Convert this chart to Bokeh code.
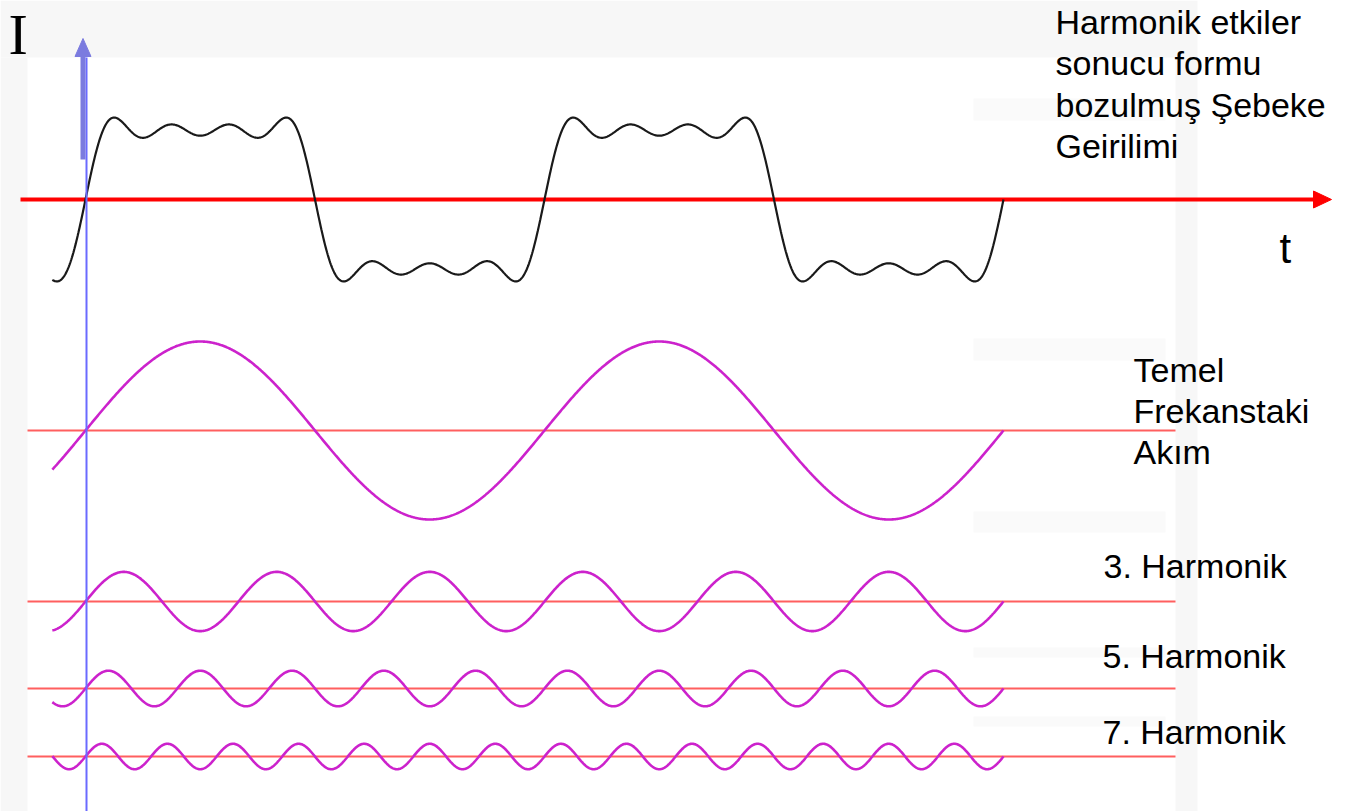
import numpy as np
from bokeh.plotting import figure
from bokeh.models import Range1d
from bokeh.core.properties import value
from bokeh.embed import file_html
from bokeh.resources import INLINE

# ---------------- data ----------------
harmonic_orders = [1, 3, 5, 7]
harmonic_amplitudes = [1.0, 0.333, 0.2, 0.143]   # relative to the fundamental
distorted_scale = 0.99                           # distorted wave = sum of the harmonics
t_start_deg = -26.0                              # phase where every curve starts
t_end_deg = 720.0                                # two full periods of the fundamental

title_lines = ["Harmonik etkiler", "sonucu formu", "bozulmuş Şebeke", "Geirilimi"]
fund_lines = ["Temel", "Frekanstaki", "Akım"]
harmonic_labels = ["3. Harmonik", "5. Harmonik", "7. Harmonik"]
axis_labels = ["I", "t"]

# ---------------- layout (pixel frame of the picture) ----------------
W, H = 1351, 811
PX_PER_DEG = 459.0 / 360.0
X0_PX = 85.0          # t = 0
Y0_PX = 199.0         # centre of distorted wave
AMP_PX = 89.0         # one amplitude unit


def px2x(px):
    return (px - X0_PX) / PX_PER_DEG


def px2y(py):
    return (Y0_PX - py) / AMP_PX


p = figure(width=W, height=H, output_backend="svg", toolbar_location=None,
           x_range=Range1d(px2x(0), px2x(W)), y_range=Range1d(px2y(H), px2y(0)),
           min_border=0, min_border_left=0, min_border_right=0,
           min_border_top=0, min_border_bottom=0)
p.axis.visible = False
p.xaxis.visible = False
p.yaxis.visible = False
p.grid.visible = False
p.outline_line_color = None
p.background_fill_color = "white"
p.border_fill_color = "white"

# faint slide background frame
bg = "#f7f7f7"
p.quad(left=px2x(0), right=px2x(1197), top=px2y(0), bottom=px2y(57), fill_color=bg, line_color=None)
p.quad(left=px2x(0), right=px2x(27), top=px2y(57), bottom=px2y(H), fill_color=bg, line_color=None)
p.quad(left=px2x(1175), right=px2x(1197), top=px2y(57), bottom=px2y(H), fill_color=bg, line_color=None)
for (ya, yb) in [(98, 120), (338, 360), (511, 532), (647, 657), (716, 726)]:
    p.quad(left=px2x(973), right=px2x(1165), top=px2y(ya), bottom=px2y(yb),
           fill_color="#fafafa", line_color=None)

t = np.linspace(t_start_deg, t_end_deg, 1500)
rad = np.deg2rad(t)

# panel centres
centres = [px2y(430), px2y(601), px2y(688), px2y(756)]

# red baselines for the component panels
for c in centres:
    p.line([px2x(27), px2x(1175)], [c, c], line_color="#ff5f5f", line_width=2)

# main time axis (red arrow)
p.line([px2x(20), px2x(1316)], [0, 0], line_color="#ff0000", line_width=4)
p.patch([px2x(1313), px2x(1331), px2x(1313)], [px2y(190.5), 0, px2y(207.5)],
        fill_color="#ff0000", line_color="#ff0000")

# distorted wave
distorted = np.zeros_like(t)
for n, a in zip(harmonic_orders, harmonic_amplitudes):
    distorted += a * np.sin(n * rad)
p.line(t, distorted * distorted_scale, line_color="#1a1a1a", line_width=2.2)

# component waves
for n, a, c in zip(harmonic_orders, harmonic_amplitudes, centres):
    p.line(t, c + a * np.sin(n * rad), line_color="#cc22cc", line_width=2.6)

# vertical current axis (blue)
p.line([px2x(86), px2x(86)], [px2y(57), px2y(H)], line_color="#6a6aff", line_width=2)
p.line([px2x(82.5), px2x(82.5)], [px2y(56), px2y(159)], line_color="#7b7bdf", line_width=5)
p.patch([px2x(74.5), px2x(82.5), px2x(90.5)], [px2y(56), px2y(38), px2y(56)],
        fill_color="#7b7bdf", line_color="#7b7bdf")

# texts
sans = value("Liberation Sans")
p.text(x=[px2x(8)], y=[px2y(34)], text=[axis_labels[0]], text_font=value("Liberation Serif"),
       text_font_size="58px", text_color="black", text_baseline="alphabetic", text_align="left")
p.text(x=[px2x(1279)], y=[px2y(248)], text=[axis_labels[1]], text_font=sans,
       text_font_size="42px", text_color="black", text_baseline="alphabetic", text_align="left")

p.text(x=[px2x(1055)] * len(title_lines),
       y=[px2y(21 + 41.5 * i) for i in range(len(title_lines))],
       text=title_lines, text_font=sans, text_font_size="34px", text_color="black",
       text_baseline="alphabetic", text_align="left")
p.text(x=[px2x(1133)] * len(fund_lines),
       y=[px2y(369 + 41 * i) for i in range(len(fund_lines))],
       text=fund_lines, text_font=sans, text_font_size="34px", text_color="black",
       text_baseline="alphabetic", text_align="left")
p.text(x=[px2x(1103), px2x(1102), px2x(1102)],
       y=[px2y(565), px2y(655), px2y(731)],
       text=harmonic_labels, text_font=sans, text_font_size="34px", text_color="black",
       text_baseline="alphabetic", text_align="left")

open("out.html", "w").write(file_html(p, INLINE))
